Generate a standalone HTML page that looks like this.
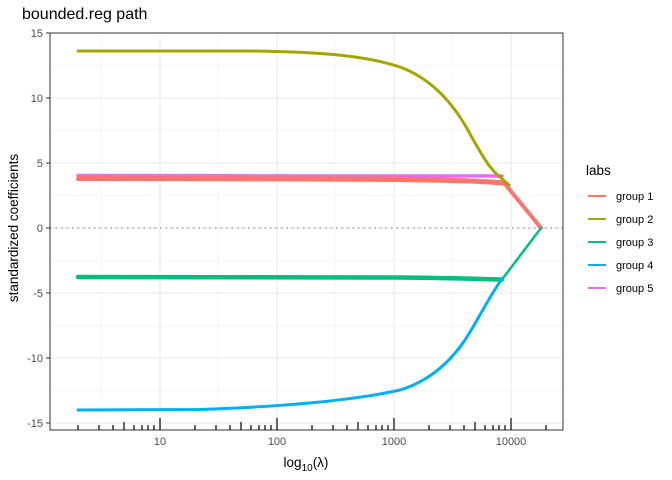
<!DOCTYPE html>
<html><head><style>body{margin:0;background:#fff}svg{display:block}</style></head><body>
<svg width="672" height="480" viewBox="0 0 672 480" xmlns="http://www.w3.org/2000/svg" font-family="Liberation Sans, sans-serif">
<rect width="672" height="480" fill="#fff"/>
<g stroke="#f2f2f2" stroke-width="0.6">
<line x1="50" x2="563" y1="65.5" y2="65.5"/><line x1="50" x2="563" y1="130.5" y2="130.5"/><line x1="50" x2="563" y1="195.5" y2="195.5"/><line x1="50" x2="563" y1="260.5" y2="260.5"/><line x1="50" x2="563" y1="325.5" y2="325.5"/><line x1="50" x2="563" y1="390.5" y2="390.5"/>
<line y1="33" y2="430" x1="101" x2="101"/><line y1="33" y2="430" x1="218" x2="218"/><line y1="33" y2="430" x1="335" x2="335"/><line y1="33" y2="430" x1="452" x2="452"/>
</g>
<g stroke="#ebebeb" stroke-width="1.1">
<line x1="50" x2="563" y1="33" y2="33"/><line x1="50" x2="563" y1="98" y2="98"/><line x1="50" x2="563" y1="163" y2="163"/><line x1="50" x2="563" y1="228" y2="228"/><line x1="50" x2="563" y1="293" y2="293"/><line x1="50" x2="563" y1="358" y2="358"/><line x1="50" x2="563" y1="423" y2="423"/>
<line y1="33" y2="430" x1="160" x2="160"/><line y1="33" y2="430" x1="277" x2="277"/><line y1="33" y2="430" x1="394" x2="394"/><line y1="33" y2="430" x1="511" x2="511"/>
</g>
<line x1="50" x2="563" y1="228" y2="228" stroke="#777" stroke-dasharray="1.5,4" stroke-width="1"/>
<g fill="none" stroke-linecap="round" stroke-linejoin="round">
<path d="M78,179 L300,179.5 L400,180 C450,181 480,181 505,184 L541,228" stroke="#F8766D" stroke-width="4"/>
<path d="M78,175.5 L300,176 L502,176" stroke="#E76BF3" stroke-width="3.5"/>
<path d="M78,177.5 L400,178 C450,179 480,180 505,182" stroke="#F8766D" stroke-width="3"/>
<path d="M505,184 L541,228" stroke="#F8766D" stroke-width="2.5"/>
<path d="M78,51 L250,51 C330,52 370,57 400,67 C430,78 450,100 465,125 C478,148 488,168 500,177 L509,185" stroke="#A3A500" stroke-width="3"/>
<path d="M78,277 L400,277.5 C450,278 480,279 502,279.5" stroke="#00BF7D" stroke-width="4.5"/>
<path d="M502,279.5 L541,228" stroke="#00BF7D" stroke-width="2.5"/>
<path d="M78,410 L200,409.5 C300,406 360,399 400,390 C430,381 450,362 465,340 C478,320 490,295 502,279" stroke="#00B0F6" stroke-width="3"/>
</g>
<rect x="50" y="33" width="513" height="397" fill="none" stroke="#333" stroke-width="1"/>
<g stroke="#333" stroke-width="1">
<line x1="46" x2="50" y1="33" y2="33"/><line x1="46" x2="50" y1="98" y2="98"/><line x1="46" x2="50" y1="163" y2="163"/><line x1="46" x2="50" y1="228" y2="228"/><line x1="46" x2="50" y1="293" y2="293"/><line x1="46" x2="50" y1="358" y2="358"/><line x1="46" x2="50" y1="423" y2="423"/>
</g>
<g font-size="11" fill="#4d4d4d" text-anchor="end">
<text x="43" y="37">15</text><text x="43" y="102">10</text><text x="43" y="167">5</text><text x="43" y="232">0</text><text x="43" y="297">-5</text><text x="43" y="362">-10</text><text x="43" y="427">-15</text>
</g>
<g font-size="11" fill="#4d4d4d" text-anchor="middle">
<text x="160" y="445">10</text><text x="277" y="445">100</text><text x="394" y="445">1000</text><text x="511" y="445">10000</text>
</g>
<text x="22" y="19" font-size="16" fill="#000">bounded.reg path</text>
<text transform="translate(18,228) rotate(-90)" font-size="13.5" text-anchor="middle">standardized coefficients</text>
<text x="306" y="467" font-size="13.5" text-anchor="middle">log<tspan font-size="10" dy="4">10</tspan><tspan dy="-4">(λ)</tspan></text>
<text x="586" y="175" font-size="13.5">labs</text>
<g stroke-width="2" >
<line x1="588" x2="606" y1="196" y2="196" stroke="#F8766D"/>
<line x1="588" x2="606" y1="219" y2="219" stroke="#A3A500"/>
<line x1="588" x2="606" y1="242" y2="242" stroke="#00BF7D"/>
<line x1="588" x2="606" y1="265" y2="265" stroke="#00B0F6"/>
<line x1="588" x2="606" y1="288" y2="288" stroke="#E76BF3"/>
</g>
<g font-size="11">
<text x="616" y="200">group 1</text><text x="616" y="223">group 2</text><text x="616" y="246">group 3</text><text x="616" y="269">group 4</text><text x="616" y="292">group 5</text>
</g>
<g stroke="#000" stroke-width="1.2">
<line x1="78" x2="78" y1="430" y2="425"/><line x1="99" x2="99" y1="430" y2="425"/><line x1="113" x2="113" y1="430" y2="425"/><line x1="124" x2="124" y1="430" y2="422"/><line x1="134" x2="134" y1="430" y2="425"/><line x1="142" x2="142" y1="430" y2="425"/><line x1="148" x2="148" y1="430" y2="425"/><line x1="154" x2="154" y1="430" y2="425"/><line x1="160" x2="160" y1="430" y2="418"/>
<line x1="195" x2="195" y1="430" y2="425"/><line x1="216" x2="216" y1="430" y2="425"/><line x1="230" x2="230" y1="430" y2="425"/><line x1="241" x2="241" y1="430" y2="422"/><line x1="251" x2="251" y1="430" y2="425"/><line x1="259" x2="259" y1="430" y2="425"/><line x1="265" x2="265" y1="430" y2="425"/><line x1="271" x2="271" y1="430" y2="425"/><line x1="277" x2="277" y1="430" y2="418"/>
<line x1="312" x2="312" y1="430" y2="425"/><line x1="333" x2="333" y1="430" y2="425"/><line x1="347" x2="347" y1="430" y2="425"/><line x1="358" x2="358" y1="430" y2="422"/><line x1="368" x2="368" y1="430" y2="425"/><line x1="376" x2="376" y1="430" y2="425"/><line x1="382" x2="382" y1="430" y2="425"/><line x1="388" x2="388" y1="430" y2="425"/><line x1="394" x2="394" y1="430" y2="418"/>
<line x1="429" x2="429" y1="430" y2="425"/><line x1="450" x2="450" y1="430" y2="425"/><line x1="464" x2="464" y1="430" y2="425"/><line x1="475" x2="475" y1="430" y2="422"/><line x1="485" x2="485" y1="430" y2="425"/><line x1="493" x2="493" y1="430" y2="425"/><line x1="499" x2="499" y1="430" y2="425"/><line x1="505" x2="505" y1="430" y2="425"/><line x1="511" x2="511" y1="430" y2="418"/><line x1="546" x2="546" y1="430" y2="425"/>
</g>
</svg>
</body></html>
